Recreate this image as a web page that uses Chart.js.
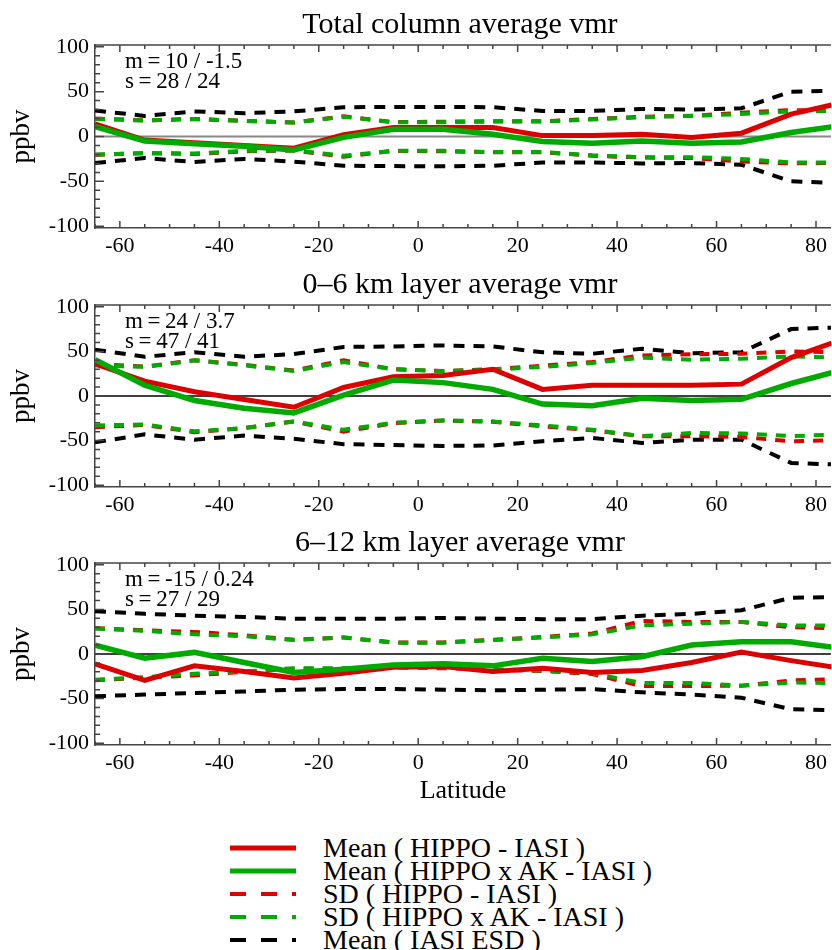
<!DOCTYPE html>
<html>
<head>
<meta charset="utf-8">
<script src="https://cdn.jsdelivr.net/npm/chart.js@4.4.1/dist/chart.umd.min.js"></script>
<style>
  body { margin: 0; background: #fff; width: 832px; height: 950px; position: relative; overflow: hidden;
         font-family: "Liberation Serif", serif; }
  .panel { position: absolute; left: 0; width: 832px; }
  #legend { position: absolute; left: 230px; top: 837px; }
  .row { height: 22.8px; display: flex; align-items: center; font-size: 28px; color: #000; white-space: nowrap; }
  .row svg { width: 66px; height: 10px; margin-right: 27px; flex: none; }
</style>
</head>
<body>
<div class="panel" style="top:0;height:258px"><canvas id="p1"></canvas></div>
<div class="panel" style="top:260px;height:257px"><canvas id="p2"></canvas></div>
<div class="panel" style="top:518px;height:289px"><canvas id="p3"></canvas></div>
<div id="legend"></div>

<script>
// latitude bin centres
const lat = [-65, -55, -45, -35, -25, -15, -5, 5, 15, 25, 35, 45, 55, 65, 75, 85];
const xTicks = [-60, -40, -20, 0, 20, 40, 60, 80];
const yTicks = [-100, -50, 0, 50, 100];

// Total column
const tcMeanHI = [14, -4, -7, -10, -13, 2, 10, 10, 10, 1, 1, 2.6, -1, 3.7, 25, 37.5];
const tcMeanAK = [11, -5, -8, -11, -15, -1, 8, 8, 2.6, -5.5, -7.4, -5, -7.4, -6, 4.4, 12];
const tcSdHIup = [20, 18, 19.5, 17.5, 15.5, 22.5, 16, 16.5, 17, 17, 19.5, 22, 23, 26.5, 29.5, 28.5];
const tcSdHIlo = [-20.5, -18.5, -19.5, -16.5, -15.5, -22.5, -16, -16.5, -17.5, -17.5, -21.5, -23.5, -24, -27.8, -30, -29.5];
const tcSdAKup = [19.6, 17.8, 19.6, 17.4, 15.6, 22, 16, 16, 16.7, 16.7, 19, 21.5, 23, 25, 28, 28.5];
const tcSdAKlo = [-20, -18.5, -19, -16, -15.5, -21.5, -16, -16, -17.4, -17.4, -21, -23, -23, -25, -29, -29];
const tcEsdUp = [29, 23, 28, 26, 28, 32.6, 33, 33, 32.6, 28.5, 28.5, 30.7, 30, 31.5, 50, 51];
const tcEsdLo = [-29.6, -24, -28.5, -25, -28, -32.6, -33, -33.3, -32.6, -29, -29, -30, -29.6, -31.5, -50, -52];

// 0-6 km
const lowMeanHI = [36, 16.7, 4.8, -4, -12.6, 9.6, 21.5, 23, 30, 7.4, 12, 12, 12, 13.3, 43, 63];
const lowMeanAK = [40.7, 12, -5, -13.7, -19, 1, 17.8, 15, 7.4, -9, -11, -2.6, -5, -3.7, 14, 29];
const lowSdHIup = [36, 33, 40, 35, 28.5, 40, 30, 28, 30, 34, 38, 45.5, 46.7, 47.4, 50, 49];
const lowSdHIlo = [-35, -32.5, -40.5, -36, -28.5, -40, -30.5, -27.5, -29, -34, -38.5, -45, -45, -46, -50.7, -49.6];
const lowSdAKup = [34.4, 32.6, 40, 34.4, 28, 38, 30, 27.8, 29.6, 32.6, 37, 43, 40.7, 41.8, 44.4, 43];
const lowSdAKlo = [-33, -32, -39.6, -36, -28.5, -37.8, -30, -27.4, -28.5, -33, -37.8, -45, -41.5, -42, -45, -43];
const lowEsdUp = [52, 44, 49, 44, 47, 55, 55.5, 56.7, 55.5, 49, 47.4, 53, 48, 49, 75, 77];
const lowEsdLo = [-52, -43, -49, -44.4, -48, -54, -55, -56, -55.5, -50.7, -47, -52.6, -49, -49, -75, -77];

// 6-12 km
const upMeanHI = [-11, -29.6, -13.3, -19.6, -27, -21.5, -14.8, -14, -19.6, -16, -20.7, -18.5, -9.6, 2.2, -7.4, -16];
const upMeanAK = [10, -4.8, 1.8, -9.6, -20.7, -17, -12.2, -11, -13.3, -4.8, -8.5, -3, 10, 13.7, 13.7, 6.3];
const upSdHIup = [29, 26.5, 24.8, 21, 16, 18.5, 13, 13, 16, 19, 23, 37, 36, 36, 30, 28.5];
const upSdHIlo = [-29.5, -26.5, -24, -20, -16.5, -16.5, -15, -16, -17.5, -19, -22.5, -36, -36, -35.5, -29.6, -28];
const upSdAKup = [28.5, 26, 22, 20, 15.6, 18.5, 12.6, 12.6, 15.6, 18.5, 22, 32, 34, 36, 32, 32];
const upSdAKlo = [-29, -26, -22, -19.6, -16, -16, -14, -15, -17, -18.5, -21.5, -32.6, -32.6, -35.5, -32, -32.6];
const upEsdUp = [48, 45, 43, 41.5, 39.6, 39.6, 39.6, 40.4, 39.6, 39, 39, 43, 45, 49, 63, 64];
const upEsdLo = [-47.4, -45.5, -43.7, -42, -40, -39.3, -39.3, -40, -40.7, -40, -39.3, -43, -45.5, -49, -62, -63];

const RED = '#dd0000';
const GREEN = '#00aa00';
const BLACK = '#000000';
const FONT = '"Liberation Serif", serif';

Chart.defaults.font.family = FONT;
Chart.defaults.color = '#000';

// title, frame, inward ticks, zero line and the m/s note
const framePlugin = {
    id: 'frame',
    beforeDatasetsDraw(chart, args, opts) {
        const {ctx, chartArea: a, scales: {y}} = chart;
        const y0 = y.getPixelForValue(0);
        ctx.save();
        ctx.strokeStyle = opts.zeroColor;
        ctx.lineWidth = opts.zeroWidth;
        ctx.beginPath();
        ctx.moveTo(a.left, y0);
        ctx.lineTo(a.right, y0);
        ctx.stroke();
        ctx.restore();
    },
    afterDraw(chart, args, opts) {
        const {ctx, chartArea: a, scales: {x, y}} = chart;
        ctx.save();
        ctx.strokeStyle = '#444';
        ctx.lineWidth = 1.5;
        ctx.beginPath();
        ctx.moveTo(a.left, a.top);
        ctx.lineTo(a.right, a.top);
        // x ticks, bottom and top
        for (let v = -65; v <= 80; v += 5) {
            const px = x.getPixelForValue(v);
            const len = v % 20 === 0 ? 7 : 4;
            ctx.moveTo(px, a.bottom);
            ctx.lineTo(px, a.bottom - len);
            ctx.moveTo(px, a.top);
            ctx.lineTo(px, a.top + len);
        }
        // y ticks, left
        for (let v = -100; v <= 100; v += 10) {
            const py = y.getPixelForValue(v);
            const len = v % 50 === 0 ? 9 : 5;
            ctx.moveTo(a.left, py);
            ctx.lineTo(a.left + len, py);
        }
        ctx.stroke();

        ctx.fillStyle = '#000';
        ctx.textBaseline = 'alphabetic';
        ctx.textAlign = 'center';
        ctx.font = '30px ' + FONT;
        ctx.fillText(opts.title, (a.left + a.right) / 2 - 3, a.top - 12);

        ctx.textAlign = 'left';
        ctx.font = '23px ' + FONT;
        ctx.fillText(opts.note[0], a.left + 30, a.top + 23);
        ctx.fillText(opts.note[1], a.left + 30, a.top + 43);
        ctx.restore();
    }
};

function line(data, color, width, dash, order) {
    return {
        data: data.map((v, i) => ({x: lat[i], y: v})),
        borderColor: color,
        borderWidth: width,
        borderDash: dash,
        borderCapStyle: 'butt',
        pointRadius: 0,
        tension: 0,
        fill: false,
        order: order
    };
}

function makePanel(id, title, note, zeroColor, zeroWidth, s, axisHeight, showLat) {
    const ctx = document.getElementById(id).getContext('2d');
    return new Chart(ctx, {
        type: 'line',
        data: {
            datasets: [
                line(s.esdUp, BLACK, 4, [11, 9], 4),
                line(s.esdLo, BLACK, 4, [11, 9], 4),
                line(s.sdHIup, RED, 4, [10, 9], 3),
                line(s.sdHIlo, RED, 4, [10, 9], 3),
                line(s.sdAKup, GREEN, 4, [10, 9], 2),
                line(s.sdAKlo, GREEN, 4, [10, 9], 2),
                line(s.meanHI, RED, 5, [], 1),
                line(s.meanAK, GREEN, 5.5, [], 0)
            ]
        },
        options: {
            responsive: true,
            maintainAspectRatio: false,
            animation: false,
            layout: { padding: { top: 45, left: 0, right: 0, bottom: 0 } },
            plugins: {
                legend: { display: false },
                tooltip: { enabled: false },
                title: { display: false },
                frame: { title: title, note: note, zeroColor: zeroColor, zeroWidth: zeroWidth }
            },
            scales: {
                x: {
                    type: 'linear',
                    min: -65,
                    max: 83,
                    afterBuildTicks: sc => { sc.ticks = xTicks.map(v => ({value: v})); },
                    afterFit: sc => { sc.height = axisHeight; },
                    grid: { display: false, drawTicks: false },
                    border: { display: true, color: '#444', width: 1.5 },
                    ticks: { font: { size: 22 }, color: '#000', padding: 5, maxRotation: 0, autoSkip: false },
                    title: { display: showLat, text: 'Latitude', color: '#000', font: { size: 26 }, padding: { top: 0, bottom: 0 } }
                },
                y: {
                    min: -102,
                    max: 102,
                    afterBuildTicks: sc => { sc.ticks = yTicks.map(v => ({value: v})); },
                    afterFit: sc => { sc.width = 95; },
                    grid: { display: false, drawTicks: false },
                    border: { display: true, color: '#444', width: 1.5 },
                    ticks: { font: { size: 22 }, color: '#000', padding: 6 },
                    title: { display: true, text: 'ppbv', color: '#000', font: { size: 27 }, padding: { top: 6, bottom: 0 } }
                }
            }
        },
        plugins: [framePlugin]
    });
}

const thin = '\u2009';

makePanel('p1', 'Total column average vmr', ['m' + thin + '=' + thin + '10 / -1.5', 's' + thin + '=' + thin + '28 / 24'], '#888', 2, {
    meanHI: tcMeanHI, meanAK: tcMeanAK, sdHIup: tcSdHIup, sdHIlo: tcSdHIlo,
    sdAKup: tcSdAKup, sdAKlo: tcSdAKlo, esdUp: tcEsdUp, esdLo: tcEsdLo
}, 30, false);

makePanel('p2', '0\u20136 km layer average vmr', ['m' + thin + '=' + thin + '24 / 3.7', 's' + thin + '=' + thin + '47 / 41'], '#000', 1.5, {
    meanHI: lowMeanHI, meanAK: lowMeanAK, sdHIup: lowSdHIup, sdHIlo: lowSdHIlo,
    sdAKup: lowSdAKup, sdAKlo: lowSdAKlo, esdUp: lowEsdUp, esdLo: lowEsdLo
}, 30, false);

makePanel('p3', '6\u201312 km layer average vmr', ['m' + thin + '=' + thin + '-15 / 0.24', 's' + thin + '=' + thin + '27 / 29'], '#000', 1.5, {
    meanHI: upMeanHI, meanAK: upMeanAK, sdHIup: upSdHIup, sdHIlo: upSdHIlo,
    sdAKup: upSdAKup, sdAKlo: upSdAKlo, esdUp: upEsdUp, esdLo: upEsdLo
}, 62, true);

// legend
const legendItems = [
    { label: 'Mean ( HIPPO - IASI )', color: RED, dash: '' },
    { label: 'Mean ( HIPPO x AK - IASI )', color: GREEN, dash: '' },
    { label: 'SD ( HIPPO - IASI )', color: RED, dash: '16 15' },
    { label: 'SD ( HIPPO x AK - IASI )', color: GREEN, dash: '16 15' },
    { label: 'Mean ( IASI ESD )', color: BLACK, dash: '16 15' }
];
const legend = document.getElementById('legend');
legendItems.forEach(it => {
    const row = document.createElement('div');
    row.className = 'row';
    const w = it.dash ? 4 : 5;
    row.innerHTML = '<svg viewBox="0 0 66 10"><line x1="0" y1="5" x2="66" y2="5" stroke="' + it.color +
        '" stroke-width="' + w + '"' + (it.dash ? ' stroke-dasharray="' + it.dash + '"' : '') + '/></svg>' +
        '<span></span>';
    row.querySelector('span').textContent = it.label;
    legend.appendChild(row);
});
</script>
</body>
</html>
